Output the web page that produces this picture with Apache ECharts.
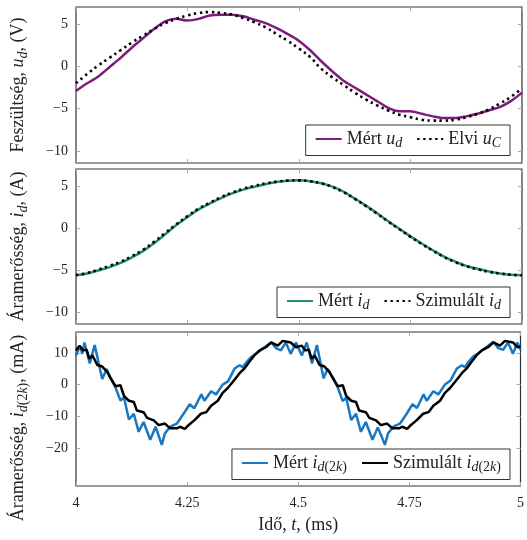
<!DOCTYPE html>
<html>
<head>
<meta charset="utf-8">
<script src="https://cdn.jsdelivr.net/npm/echarts@6/dist/echarts.min.js"></script>
<style>
  html, body { margin: 0; padding: 0; background: #fff; }
  #chart { width: 527px; height: 540px; }
</style>
</head>
<body>
<div id="chart"></div>
<script>
// sample times for panels 1 and 2 (ms)
const tSample = Array.from({ length: 41 }, (_, i) => +(4 + i * 0.025).toFixed(3))

// panel 1: voltage (V)
const udMeasured = [-2.9, -2.0, -1.2, -0.1, 1.0, 2.2, 3.3, 4.4, 5.3, 5.6, 5.4, 5.6, 6.0, 6.1, 6.1, 5.9, 5.5, 5.1, 4.5, 3.8,
  3.0, 1.9, 0.6, -0.6, -1.7, -2.5, -3.3, -4.1, -4.9, -5.3, -5.3, -5.6, -5.9, -6.1, -6.1, -5.9, -5.6, -5.2, -4.8, -4.1, -3.1]
const ucTheory = [-2.0, -0.9, 0.1, 1.0, 1.9, 2.8, 3.6, 4.4, 5.1, 5.6, 6.0, 6.3, 6.4, 6.3, 6.1, 5.7, 5.2, 4.6, 3.8, 3.0,
  2.1, 1.1, -0.3, -1.3, -2.2, -3.1, -3.9, -4.6, -5.2, -5.7, -6.0, -6.3, -6.4, -6.4, -6.3, -6.0, -5.6, -5.1, -4.4, -3.6, -2.6]

// panel 2: current (A)
const idMeasured = [-5.6, -5.4, -5.05, -4.65, -4.15, -3.5, -2.75, -1.8, -0.75, 0.35, 1.3, 2.2, 2.9, 3.55, 4.1, 4.55, 4.9, 5.2, 5.45, 5.6,
  5.65, 5.55, 5.3, 4.9, 4.3, 3.5, 2.65, 1.75, 0.8, -0.1, -1.0, -1.85, -2.65, -3.4, -4.0, -4.5, -4.85, -5.15, -5.4, -5.55, -5.6]
const idSimulated = [-5.6, -5.35, -4.95, -4.5, -4.0, -3.35, -2.6, -1.65, -0.6, 0.45, 1.4, 2.3, 3.0, 3.65, 4.2, 4.65, 5.0, 5.3, 5.5, 5.62,
  5.65, 5.55, 5.3, 4.85, 4.25, 3.45, 2.6, 1.7, 0.75, -0.15, -1.05, -1.9, -2.7, -3.45, -4.05, -4.55, -4.9, -5.2, -5.4, -5.55, -5.62]

// panel 3: 2k harmonic current (mA), [t, value]
const i2kMeasured = [
  [4.000, 9.2], [4.009, 12.1], [4.014, 9.7], [4.019, 13.3], [4.031, 6.7], [4.042, 12.5], [4.059, 1.8], [4.069, 4.9],
  [4.078, 2.0], [4.089, -1.0], [4.100, -5.0], [4.108, -4.1], [4.119, -11.0], [4.130, -9.2], [4.141, -14.9], [4.152, -11.8],
  [4.167, -17.4], [4.179, -13.3], [4.193, -19.0], [4.200, -15.4], [4.212, -13.3], [4.227, -12.3], [4.242, -9.2], [4.256, -6.2],
  [4.266, -7.5], [4.282, -3.1], [4.289, -5.1], [4.304, -2.1], [4.315, -3.1], [4.330, 0.0], [4.342, 1.0], [4.357, 5.1],
  [4.368, 6.1], [4.375, 5.5], [4.383, 7.0], [4.394, 8.7], [4.405, 9.7], [4.420, 11.3], [4.439, 13.3], [4.450, 11.5],
  [4.461, 10.8], [4.472, 13.3], [4.483, 9.7], [4.495, 13.3],
  [4.508, 9.2], [4.519, 13.3], [4.531, 6.7], [4.542, 12.5], [4.557, 2.0], [4.566, 4.9], [4.578, 2.2], [4.589, -1.0],
  [4.600, -5.2], [4.608, -4.1], [4.619, -11.2], [4.630, -9.2], [4.641, -14.9], [4.652, -11.8], [4.667, -17.4], [4.679, -13.5],
  [4.695, -19.0], [4.702, -15.4], [4.714, -13.3], [4.729, -12.3], [4.744, -9.2], [4.757, -6.2], [4.767, -7.4], [4.782, -3.1],
  [4.789, -5.1], [4.804, -2.1], [4.815, -3.1], [4.830, 0.0], [4.842, 1.2], [4.857, 5.1], [4.868, 6.1], [4.875, 5.5],
  [4.883, 7.2], [4.894, 8.9], [4.905, 9.9], [4.920, 11.5], [4.939, 13.5], [4.950, 11.5], [4.961, 11.0], [4.972, 13.3],
  [4.983, 9.7], [4.993, 13.3], [5.000, 11.0]
]
const i2kSimulated = [
  [4.000, 10.8], [4.008, 12.3], [4.016, 10.8], [4.024, 11.0], [4.030, 8.2], [4.037, 9.2], [4.048, 6.2], [4.059, 5.7],
  [4.070, 4.0], [4.078, 2.0], [4.089, -0.5], [4.100, -0.2], [4.108, -3.6], [4.119, -5.1], [4.130, -5.5], [4.137, -8.2],
  [4.152, -8.7], [4.160, -10.5], [4.175, -11.3], [4.186, -12.8], [4.200, -12.3], [4.212, -13.8], [4.227, -13.8], [4.234, -13.3],
  [4.245, -14.0], [4.253, -12.8], [4.266, -11.3], [4.281, -9.2], [4.293, -8.7], [4.304, -6.7], [4.319, -5.1], [4.330, -2.6],
  [4.342, -1.0], [4.357, 1.6], [4.368, 3.6], [4.379, 5.1], [4.390, 7.2], [4.401, 9.2], [4.413, 10.8], [4.427, 11.8],
  [4.439, 13.3], [4.454, 12.3], [4.465, 13.8], [4.483, 13.3], [4.495, 11.8],
  [4.508, 12.3], [4.516, 10.8], [4.524, 11.0], [4.530, 8.2], [4.537, 9.2], [4.548, 6.2], [4.559, 5.7], [4.570, 4.0],
  [4.578, 2.0], [4.589, -0.5], [4.600, -0.2], [4.608, -3.6], [4.619, -5.1], [4.630, -5.5], [4.637, -8.2], [4.652, -8.7],
  [4.660, -10.5], [4.675, -11.3], [4.686, -12.8], [4.700, -12.3], [4.712, -13.8], [4.727, -13.8], [4.734, -13.3], [4.745, -14.0],
  [4.753, -12.8], [4.766, -11.3], [4.781, -9.2], [4.793, -8.7], [4.804, -6.7], [4.819, -5.1], [4.830, -2.6], [4.842, -1.0],
  [4.857, 1.6], [4.868, 3.6], [4.879, 5.1], [4.890, 7.2], [4.901, 9.2], [4.913, 10.8], [4.927, 11.8], [4.939, 13.3],
  [4.954, 12.3], [4.965, 13.8], [4.983, 13.3], [4.993, 11.8], [5.000, 12.0]
]

// axis ticks
const xTicks = [4, 4.25, 4.5, 4.75, 5]
const yTicksV = [-10, -5, 0, 5]
const yTicksA = [-10, -5, 0, 5]
const yTicksMA = [-20, -10, 0, 10]

const SERIF = '"Liberation Serif", "DejaVu Serif", serif'
const INK = '#222'
const FS = 18
const rich = {
  n: { fontFamily: SERIF, fontSize: FS, color: INK },
  i: { fontFamily: SERIF, fontSize: FS, fontStyle: 'italic', color: INK },
  s: { fontFamily: SERIF, fontSize: 14, fontStyle: 'italic', color: INK, padding: [9, 0, 0, 0] },
  sr: { fontFamily: SERIF, fontSize: 14, color: INK, padding: [9, 0, 0, 0] }
}
const sub2k = '{s|d}{sr|(2}{s|k}{sr|)}'

const legendText = {
  ud: '{n|Mért }{i|u}{s|d}',
  uc: '{n|Elvi }{i|u}{s|C}',
  id: '{n|Mért }{i|i}{s|d}',
  ids: '{n|Szimulált }{i|i}{s|d}',
  k2m: '{n|Mért }{i|i}' + sub2k,
  k2s: '{n|Szimulált }{i|i}' + sub2k
}

const grids = [
  { left: 76, right: 5, top: 7, height: 156 },
  { left: 76, right: 5, top: 169, height: 155 },
  { left: 76, right: 5, top: 332, height: 154 }
].map((g) => ({ ...g, show: true, borderColor: '#333', borderWidth: 1.2, backgroundColor: 'transparent' }))

const tick = { show: true, inside: true, length: 4, lineStyle: { color: '#aaa', width: 1 } }
const minus = (v) => String(v).replace('-', '\u2212')

const xAxes = []
const yAxes = []
grids.forEach((g, gi) => {
  ;['bottom', 'top'].forEach((pos) => {
    const labelled = gi === 2 && pos === 'bottom'
    xAxes.push({
      type: 'value', gridIndex: gi, position: pos, min: 4, max: 5, interval: 0.25,
      axisLine: { show: false, onZero: false }, splitLine: { show: false },
      axisTick: { ...tick, customValues: xTicks },
      axisLabel: { show: labelled, customValues: xTicks, margin: 10, fontFamily: SERIF, fontSize: 14, color: INK },
      name: labelled ? '{n|Idő, }{i|t}{n|, (ms)}' : '',
      nameLocation: 'middle', nameGap: 30,
      nameTextStyle: { rich, fontFamily: SERIF, fontSize: FS, color: INK }
    })
  })
})

const yConf = [
  { min: -11.4, max: 7, ticks: yTicksV, name: '{n|Feszültség, }{i|u}{s|d}{n|, (V)}', pad: [0, 0, 0, 0] },
  { min: -11.4, max: 7, ticks: yTicksA, name: '{n|Áramerősség, }{i|i}{s|d}{n|, (A)}', pad: [0, 0, 0, 0] },
  { min: -32, max: 16.6, ticks: yTicksMA, name: '{n|Áramerősség, }{i|i}' + sub2k + '{n|, (mA)}', pad: [0, 38, 0, 0] }
]
yConf.forEach((c, gi) => {
  ;['left', 'right'].forEach((pos) => {
    const left = pos === 'left'
    yAxes.push({
      type: 'value', gridIndex: gi, position: pos, min: c.min, max: c.max,
      axisLine: { show: false, onZero: false }, splitLine: { show: false },
      axisTick: { ...tick, customValues: c.ticks },
      axisLabel: { show: left, customValues: c.ticks, formatter: minus, margin: 8, fontFamily: SERIF, fontSize: 14, color: INK },
      name: left ? c.name : '',
      nameLocation: 'middle', nameRotate: 90, nameGap: 46,
      nameTextStyle: { rich, fontFamily: SERIF, fontSize: FS, color: INK, padding: c.pad }
    })
  })
})

const solid = (color) => ({ color, width: 2.5 })
const dotted = { color: '#000', width: 2.6, type: [2.4, 3.6] }
const zip = (xs, ys) => xs.map((x, i) => [x, ys[i]])

const series = [
  { name: 'ud', type: 'line', xAxisIndex: 0, yAxisIndex: 0, data: zip(tSample, udMeasured), smooth: 0.3, lineStyle: solid('#7e1c7e'), itemStyle: { color: '#7e1c7e' } },
  { name: 'uc', type: 'line', xAxisIndex: 0, yAxisIndex: 0, data: zip(tSample, ucTheory), smooth: 0.4, lineStyle: dotted, itemStyle: { color: '#000' } },
  { name: 'id', type: 'line', xAxisIndex: 2, yAxisIndex: 2, data: zip(tSample, idMeasured), smooth: 0.4, lineStyle: solid('#248a78'), itemStyle: { color: '#248a78' } },
  { name: 'ids', type: 'line', xAxisIndex: 2, yAxisIndex: 2, data: zip(tSample, idSimulated), smooth: 0.4, lineStyle: dotted, itemStyle: { color: '#000' } },
  { name: 'k2m', type: 'line', xAxisIndex: 4, yAxisIndex: 4, data: i2kMeasured, lineStyle: solid('#1a78c2'), itemStyle: { color: '#1a78c2' } },
  { name: 'k2s', type: 'line', xAxisIndex: 4, yAxisIndex: 4, data: i2kSimulated, lineStyle: solid('#000'), itemStyle: { color: '#000' } }
].map((s) => ({ ...s, symbol: 'none', showSymbol: false, animation: false, clip: true }))

const legendBase = {
  orient: 'horizontal', right: 17, itemWidth: 26, itemHeight: 10, itemGap: 14,
  borderColor: '#333', borderWidth: 1, borderRadius: 0, backgroundColor: '#fff', padding: [5, 9, 5, 9],
  itemStyle: { opacity: 0 },
  formatter: (name) => legendText[name],
  textStyle: { rich, fontFamily: SERIF, fontSize: FS, color: INK },
  selectedMode: false
}

const chart = echarts.init(document.getElementById('chart'))
chart.setOption({
  animation: false,
  grid: grids,
  xAxis: xAxes,
  yAxis: yAxes,
  legend: [
    { ...legendBase, top: 125, data: ['ud', 'uc'] },
    { ...legendBase, top: 287, data: ['id', 'ids'] },
    { ...legendBase, top: 449, data: ['k2m', 'k2s'] }
  ],
  series
})
</script>
</body>
</html>
